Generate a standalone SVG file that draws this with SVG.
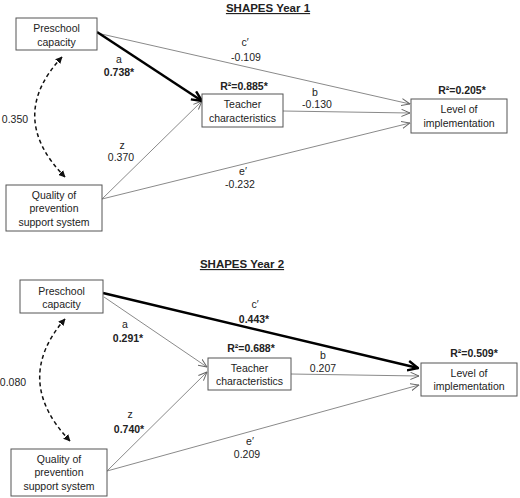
<svg xmlns="http://www.w3.org/2000/svg" width="520" height="498" viewBox="0 0 520 498">
<style>
  .box{fill:#fff;stroke:#555;stroke-width:1}
  text{font-family:"Liberation Sans",Arial,sans-serif;font-size:10.5px;fill:#222;text-anchor:middle}
  .b{font-weight:bold}
  .title{font-weight:bold;font-size:11.5px;text-decoration:underline}
  .thin{fill:none;stroke:#8a8a8a;stroke-width:1;marker-end:url(#ah)}
  .thick{fill:none;stroke:#000;stroke-width:2.5;marker-end:url(#ahk)}
  .dash{fill:none;stroke:#111;stroke-width:1.5;stroke-dasharray:4 3;marker-start:url(#ahd);marker-end:url(#ahd)}
</style>
<defs>
  <marker id="ah" viewBox="0 0 10 10" refX="9.5" refY="5" markerWidth="9" markerHeight="9" markerUnits="userSpaceOnUse" orient="auto">
    <path d="M0,1 L9.5,5 L0,9" fill="none" stroke="#666" stroke-width="1.1"/>
  </marker>
  <marker id="ahk" viewBox="0 0 10 10" refX="9" refY="5" markerWidth="12" markerHeight="12" markerUnits="userSpaceOnUse" orient="auto">
    <path d="M0.5,1 L9,5 L0.5,9" fill="none" stroke="#000" stroke-width="2"/>
  </marker>
  <marker id="ahd" viewBox="0 0 10 10" refX="9" refY="5" markerWidth="7" markerHeight="7" markerUnits="userSpaceOnUse" orient="auto-start-reverse">
    <path d="M0,0 L10,5 L0,10 Z" fill="#111"/>
  </marker>
</defs>

<text class="title" x="268" y="12">SHAPES Year 1</text>
<text class="title" x="242" y="268">SHAPES Year 2</text>

<g id="connectors">
  <path class="thin" d="M97,33 L410,104"/>
  <path class="thin" d="M283,111 L410,113"/>
  <path class="thin" d="M102,199 L410,123"/>
  <path class="thin" d="M102,199 L202,101"/>
  <path class="thick" d="M97,32 L202,101"/>
  <path class="dash" d="M62,57 Q6,117 65,177"/>

  <path class="thin" d="M104,297 L207,367"/>
  <path class="thin" d="M107,471 L207,372"/>
  <path class="thin" d="M107,471 L419,385"/>
  <path class="thin" d="M291,374 L419,376"/>
  <path class="thick" d="M103,293 L418,368"/>
  <path class="dash" d="M65,319 Q12,380 70,441"/>
</g>

<g id="y1-preschool">
  <rect class="box" x="16" y="18" width="81" height="32"/>
  <text x="56.5" y="31.5">Preschool</text>
  <text x="56.5" y="45.5">capacity</text>
</g>
<g id="y1-teacher">
  <rect class="box" x="202" y="94" width="81" height="33"/>
  <text x="242.5" y="107.5">Teacher</text>
  <text x="242.5" y="121.5">characteristics</text>
  <text class="b" x="244" y="90">R²=0.885*</text>
</g>
<g id="y1-level">
  <rect class="box" x="411" y="99" width="96" height="34"/>
  <text x="459" y="112.5">Level of</text>
  <text x="459" y="126.5">implementation</text>
  <text class="b" x="462" y="94">R²=0.205*</text>
</g>
<g id="y1-quality">
  <rect class="box" x="6" y="185" width="96" height="46"/>
  <text x="54" y="198.5">Quality of</text>
  <text x="54" y="211.5">prevention</text>
  <text x="54" y="225.5">support system</text>
</g>
<g id="y1-labels">
  <text x="245" y="46">c′</text>
  <text x="246" y="61">-0.109</text>
  <text x="119" y="63">a</text>
  <text class="b" x="119" y="76">0.738*</text>
  <text x="15" y="123">0.350</text>
  <text x="122" y="149">z</text>
  <text x="121" y="161">0.370</text>
  <text x="243" y="175">e′</text>
  <text x="240" y="188">-0.232</text>
  <text x="315" y="96">b</text>
  <text x="317" y="108">-0.130</text>
</g>

<g id="y2-preschool">
  <rect class="box" x="20" y="280" width="83" height="33"/>
  <text x="61.5" y="294.5">Preschool</text>
  <text x="61.5" y="307.5">capacity</text>
</g>
<g id="y2-teacher">
  <rect class="box" x="208" y="358" width="83" height="32"/>
  <text x="249.5" y="371.5">Teacher</text>
  <text x="249.5" y="384.5">characteristics</text>
  <text class="b" x="251" y="352">R²=0.688*</text>
</g>
<g id="y2-level">
  <rect class="box" x="421" y="363" width="96" height="33"/>
  <text x="469" y="376.5">Level of</text>
  <text x="469" y="389.5">implementation</text>
  <text class="b" x="474" y="357">R²=0.509*</text>
</g>
<g id="y2-quality">
  <rect class="box" x="11" y="449" width="96" height="47"/>
  <text x="59" y="462.5">Quality of</text>
  <text x="59" y="475.5">prevention</text>
  <text x="59" y="489.5">support system</text>
</g>
<g id="y2-labels">
  <text x="255" y="308">c′</text>
  <text class="b" x="254" y="323">0.443*</text>
  <text x="125" y="328">a</text>
  <text class="b" x="128" y="342">0.291*</text>
  <text x="323" y="359">b</text>
  <text x="323" y="372">0.207</text>
  <text x="13" y="386">0.080</text>
  <text x="130" y="418">z</text>
  <text class="b" x="129" y="433">0.740*</text>
  <text x="250" y="445">e′</text>
  <text x="247" y="458">0.209</text>
</g>
</svg>
